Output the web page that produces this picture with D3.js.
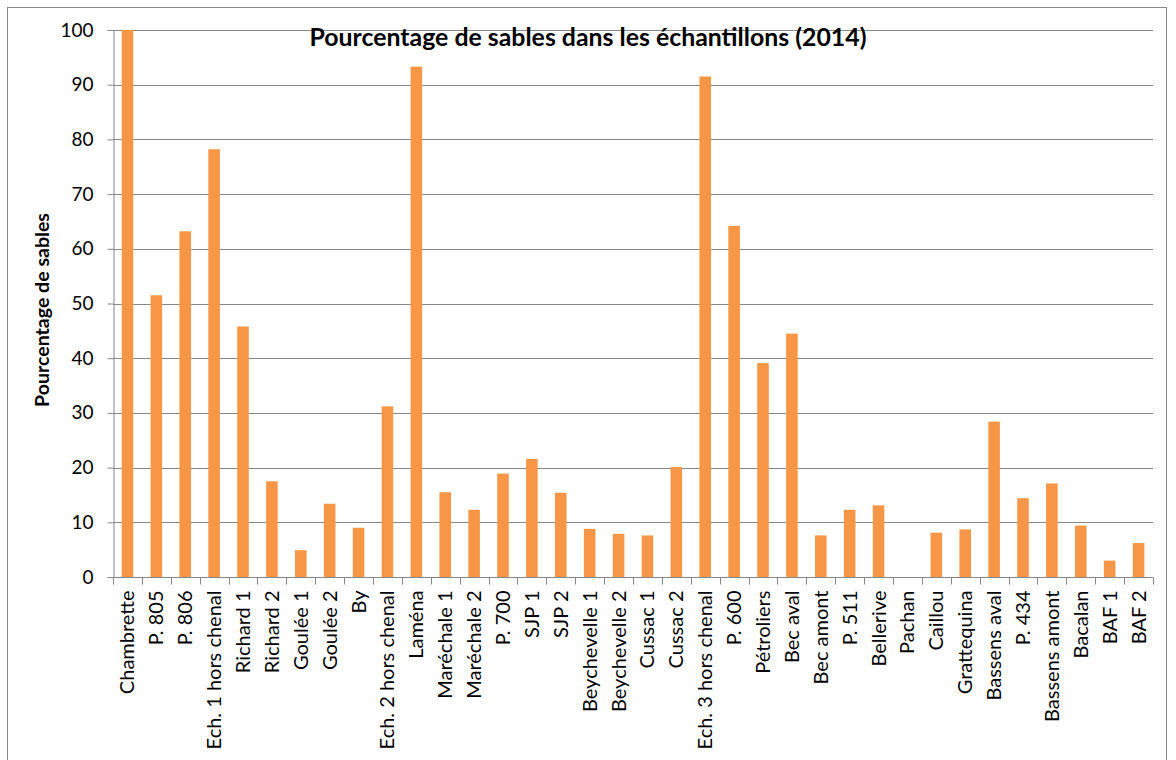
<!DOCTYPE html>
<html>
<head>
<meta charset="utf-8">
<script src="https://cdn.jsdelivr.net/npm/d3@7"></script>
<style>
  body { margin: 0; background: #fff; }
  svg { display: block; }
</style>
</head>
<body>
<div id="chart"></div>
<script>
// données
const categories = [
  'Chambrette', 'P. 805', 'P. 806', 'Ech. 1 hors chenal', 'Richard 1', 'Richard 2',
  'Goulée 1', 'Goulée 2', 'By', 'Ech. 2 hors chenal', 'Laména', 'Maréchale 1',
  'Maréchale 2', 'P. 700', 'SJP 1', 'SJP 2', 'Beychevelle 1', 'Beychevelle 2',
  'Cussac 1', 'Cussac 2', 'Ech. 3 hors chenal', 'P. 600', 'Pétroliers', 'Bec aval',
  'Bec amont', 'P. 511', 'Bellerive', 'Pachan', 'Caillou', 'Grattequina',
  'Bassens aval', 'P. 434', 'Bassens amont', 'Bacalan', 'BAF 1', 'BAF 2'
];
const sablePct = [
  100, 51.5, 63.2, 78.2, 45.8, 17.5,
  4.9, 13.4, 9.0, 31.2, 93.3, 15.5,
  12.3, 18.9, 21.6, 15.4, 8.8, 7.9,
  7.6, 20.1, 91.5, 64.2, 39.1, 44.5,
  7.6, 12.3, 13.1, 0, 8.1, 8.7,
  28.4, 14.4, 17.1, 9.4, 3.0, 6.2
];
const yTicks = [0, 10, 20, 30, 40, 50, 60, 70, 80, 90, 100];

const width = 1176, height = 760;
const margin = { top: 30, right: 23, bottom: 183, left: 113 };
const innerW = width - margin.left - margin.right;
const innerH = height - margin.top - margin.bottom;
const font = 'Lato, "Open Sans", sans-serif';

const svg = d3.select('#chart').append('svg')
  .attr('width', width).attr('height', height);

// ajuste la taille de police pour une longueur voulue
function fitText(sel, target, start) {
  const w = sel.node().getComputedTextLength();
  if (w > 0) sel.attr('font-size', (start * target / w).toFixed(2));
}

// cadre du graphique
svg.append('rect')
  .attr('x', 7.5).attr('y', 7.5)
  .attr('width', 1159).attr('height', 770)
  .attr('fill', '#fff').attr('stroke', '#888').attr('stroke-width', 1);

const g = svg.append('g').attr('transform', `translate(${margin.left},${margin.top})`);

const x = d3.scaleBand().domain(categories).range([0, innerW]).paddingInner(0.6).paddingOuter(0.3);
const y = d3.scaleLinear().domain([0, 100]).range([innerH, 0]);

// grille
g.append('g').selectAll('line').data(yTicks.filter(d => d > 0)).enter().append('line')
  .attr('x1', 0).attr('x2', innerW)
  .attr('y1', d => Math.round(y(d)) + 0.5).attr('y2', d => Math.round(y(d)) + 0.5)
  .attr('stroke', '#878787').attr('stroke-width', 1);

// barres
g.append('g').selectAll('rect').data(sablePct).enter().append('rect')
  .attr('x', (d, i) => x(categories[i]))
  .attr('y', d => y(d))
  .attr('width', x.bandwidth())
  .attr('height', d => innerH - y(d))
  .attr('fill', '#F79646');

// axe Y
const yAxis = g.append('g').attr('transform', 'translate(0.5,0)')
  .call(d3.axisLeft(y).tickValues(yTicks).tickSize(6).tickPadding(14));
yAxis.select('.domain').attr('stroke', '#878787');
yAxis.selectAll('.tick line').attr('stroke', '#878787');
yAxis.selectAll('text').attr('font-family', font).attr('font-size', 19).attr('fill', '#000');

// axe X : graduations entre catégories
const xAxis = g.append('g').attr('transform', `translate(0,${innerH + 0.5})`);
xAxis.append('line').attr('x1', 0).attr('x2', innerW).attr('stroke', '#878787');
xAxis.selectAll('line.tk').data(d3.range(categories.length + 1)).enter().append('line')
  .attr('class', 'tk')
  .attr('x1', i => Math.round(i * innerW / categories.length) + 0.5)
  .attr('x2', i => Math.round(i * innerW / categories.length) + 0.5)
  .attr('y1', 0).attr('y2', 7).attr('stroke', '#878787');

xAxis.selectAll('text').data(categories).enter().append('text')
  .attr('transform', d => `translate(${x(d) + x.bandwidth() / 2 + 7},13) rotate(-90)`)
  .attr('text-anchor', 'end')
  .attr('font-family', font).attr('font-size', 20).attr('fill', '#000')
  .text(d => d);

// titre
const title = svg.append('text')
  .attr('x', 588).attr('y', 46)
  .attr('text-anchor', 'middle')
  .attr('font-family', font).attr('font-weight', 'bold').attr('font-size', 20)
  .text('Pourcentage de sables dans les échantillons (2014)');
fitText(title, 557, 20);

// titre axe Y
const yLabel = svg.append('text')
  .attr('transform', 'translate(49,310) rotate(-90)')
  .attr('text-anchor', 'middle')
  .attr('font-family', font).attr('font-weight', 'bold').attr('font-size', 16)
  .text('Pourcentage de sables');
fitText(yLabel, 194, 16);
</script>
</body>
</html>
